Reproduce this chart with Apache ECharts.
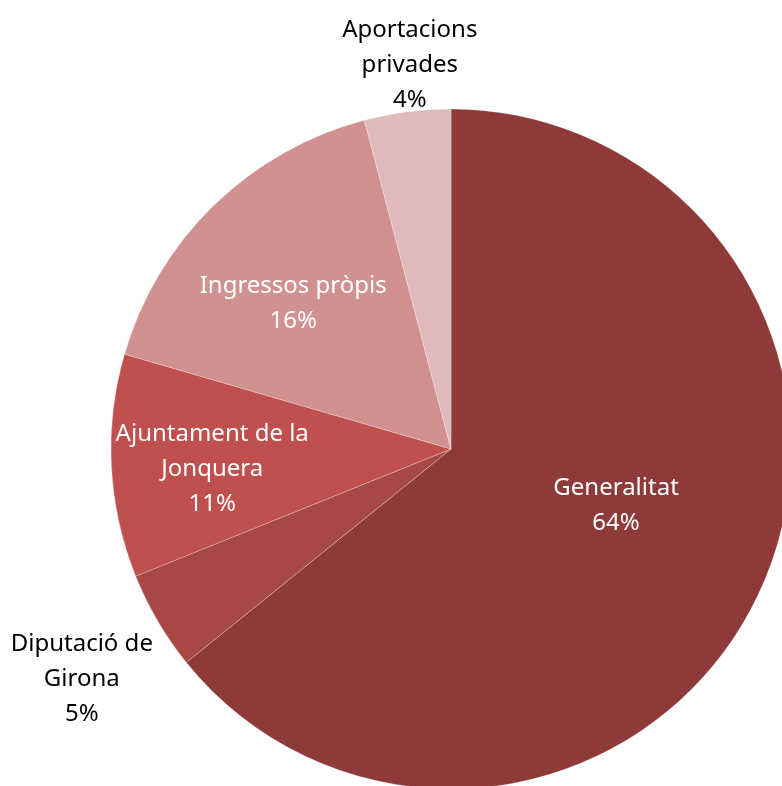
<!DOCTYPE html>
<html>
<head>
<meta charset="utf-8">
<script src="https://cdn.jsdelivr.net/npm/echarts@6/dist/echarts.min.js"></script>
<style>
  html, body { margin: 0; padding: 0; background: #fff; }
  #chart { width: 782px; height: 786px; }
</style>
</head>
<body>
<div id="chart"></div>
<script>
// finançament per origen (%)
const categories = ["Generalitat", "Diputació de\nGirona", "Ajuntament de la\nJonquera", "Ingressos pròpis", "Aportacions\nprivades"]
const values = [64.2, 4.7, 10.6, 16.4, 4.1]

const colors = ["#8E3A39", "#A84846", "#C0504D", "#D19190", "#E0BABA"]
const labelColors = ["#fff", "#000", "#fff", "#fff", "#000"]
// nudges from the default inside spot
const labelShift = [[9, -18], [-220, 143], [-66, 11], [-37, -21], [-19, -212]]

const myChart = echarts.init(document.getElementById("chart"))

const option = {
  animation: false,
  series: [
    {
      type: "pie",
      center: [451, 449],
      radius: 340,
      startAngle: 90,
      clockwise: true,
      data: categories.map((name, i) => ({
        name: name,
        value: values[i],
        itemStyle: { color: colors[i] },
        label: { color: labelColors[i] }
      })),
      itemStyle: {
        borderColor: "rgba(255,255,255,0.25)",
        borderWidth: 1
      },
      label: {
        show: true,
        position: "inside",
        formatter: (p) => p.name + "\n" + Math.round(p.value) + "%",
        fontFamily: "Noto Sans",
        fontSize: 24,
        lineHeight: 35,
        align: "center"
      },
      labelLine: { show: false },
      labelLayout: (params) => {
        const s = labelShift[params.dataIndex]
        return { dx: s[0], dy: s[1] }
      },
      emphasis: { disabled: true }
    }
  ]
}

myChart.setOption(option)
window.addEventListener("resize", () => {
  myChart.resize()
})
</script>
</body>
</html>
